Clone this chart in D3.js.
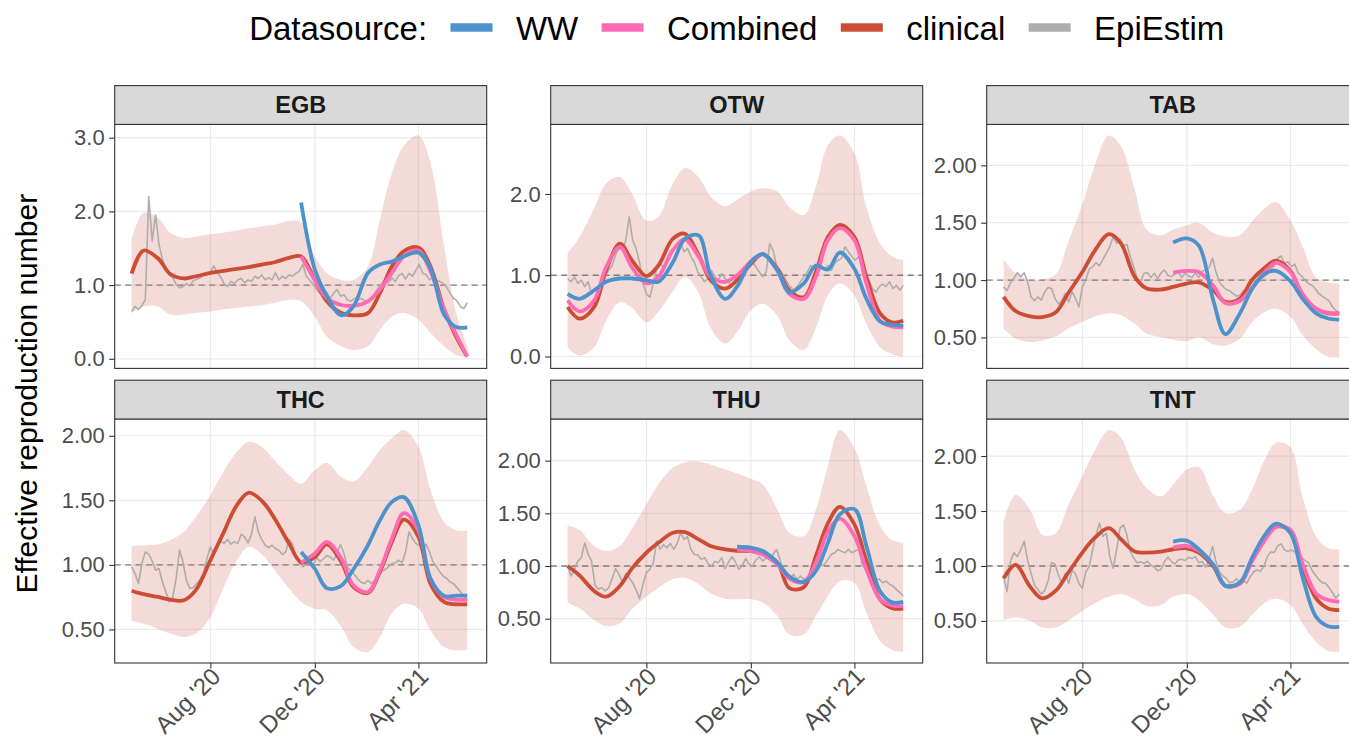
<!DOCTYPE html>
<html>
<head>
<meta charset="utf-8">
<script src="https://cdn.jsdelivr.net/npm/d3@7"></script>
<style>
  body { margin: 0; background: #fff; }
  svg { display: block; font-family: "Liberation Sans", Arial, Helvetica, sans-serif; }
</style>
</head>
<body>
<svg id="chart" width="1349" height="740"></svg>
<script>
// knot dates for the smoothed estimates (1st and 15th of each month)
const knotDates = ["2020-05-01","2020-05-15","2020-06-01","2020-06-15","2020-07-01","2020-07-15",
  "2020-08-01","2020-08-15","2020-09-01","2020-09-15","2020-10-01","2020-10-15","2020-11-01",
  "2020-11-15","2020-12-01","2020-12-15","2021-01-01","2021-01-15","2021-02-01","2021-02-15",
  "2021-03-01","2021-03-15","2021-04-01","2021-04-15","2021-05-01","2021-05-15","2021-05-28"];
// EpiEstim values every 4 days from this date
const epiStart = "2020-05-01";
const epiStepDays = 4;
const xRange = ["2020-05-01", "2021-05-31"];
const xTicks = ["2020-08-01", "2020-12-01", "2021-04-01"];
const sources = ["WW", "Combined", "clinical", "EpiEstim"];

// ---- EGB
const egbClinical = [1.155,1.47,1.36,1.15,1.09,1.12,1.165,1.19,1.22,1.245,1.28,1.31,1.37,1.39,1.07,0.78,0.62,0.59,0.62,0.89,1.255,1.46,1.51,1.255,0.67,0.30,0.03];
const egbLower = [0.62,0.71,0.71,0.60,0.60,0.62,0.64,0.67,0.69,0.71,0.73,0.76,0.80,0.78,0.575,0.30,0.17,0.12,0.17,0.39,0.575,0.62,0.53,0.35,0.17,0.05,0.02];
const egbUpper = [1.62,1.98,1.91,1.71,1.64,1.66,1.69,1.71,1.74,1.77,1.80,1.82,1.87,1.85,1.39,1.165,1.07,1.07,1.255,1.89,2.52,2.89,3.03,2.66,1.53,0.62,0.17];
const egbWW = [2.12,1.21,0.85,0.59,0.71,1.165,1.28,1.32,1.39,1.44,1.23,0.60,0.43,0.425];
const egbCombined = [1.39,1.07,0.825,0.73,0.72,0.78,0.94,1.165,1.39,1.47,1.19,0.67,0.33,0.03];
const egbEpi = [0.64,0.71,0.67,0.72,0.80,2.20,1.60,1.95,1.55,1.35,1.23,1.14,1.10,1.01,0.96,0.98,1.02,0.99,1.06,1.08,
  1.10,1.13,1.14,1.17,1.26,1.17,1.11,1.02,0.98,1.05,1.02,1.07,1.09,1.03,1.07,1.05,1.12,1.09,1.14,1.07,
  1.10,1.07,1.17,1.07,1.12,1.09,1.14,1.12,1.16,1.19,1.28,1.12,1.07,1.01,0.94,0.89,0.87,0.90,0.82,0.89,
  0.94,0.85,0.87,0.80,0.78,0.82,0.80,0.82,0.79,0.78,0.82,0.89,0.96,1.02,1.07,1.03,1.10,1.05,1.13,1.16,
  1.08,1.16,1.12,1.20,1.28,1.16,1.14,1.07,1.12,1.06,1.05,1.02,0.97,0.89,0.82,0.79,0.71,0.68,0.76];
const egbTicks = [0, 1, 2, 3];

// ---- OTW
const otwClinical = [0.61,0.465,0.61,1.06,1.39,1.185,0.99,1.12,1.45,1.51,1.25,0.94,0.835,0.94,1.14,1.26,1.08,0.815,0.73,1.04,1.47,1.62,1.47,0.98,0.53,0.42,0.44];
const otwLower = [0.115,0.01,0.115,0.44,0.67,0.60,0.42,0.55,0.80,0.98,0.78,0.35,0.16,0.30,0.57,0.65,0.50,0.20,0.08,0.35,0.75,0.90,0.75,0.40,0.115,0.03,-0.01];
const otwUpper = [1.27,1.47,1.82,2.13,2.21,2.01,1.67,1.72,2.13,2.32,2.21,1.97,1.85,1.93,2.03,2.07,2.03,1.84,1.74,2.09,2.60,2.72,2.50,1.84,1.39,1.23,1.185];
const otwWW = [0.77,0.71,0.815,0.92,0.96,0.96,0.94,0.92,1.16,1.45,1.49,1.0,0.71,0.86,1.165,1.26,1.06,0.79,0.90,1.12,1.07,1.28,1.08,0.71,0.43,0.39,0.38];
const otwCombined = [0.69,0.555,0.69,1.10,1.35,1.10,0.90,0.98,1.31,1.44,1.23,0.98,0.92,1.00,1.165,1.26,1.06,0.77,0.71,0.98,1.43,1.58,1.43,0.90,0.44,0.37,0.36];
const otwEpi = [0.96,0.92,0.98,0.90,0.94,0.86,0.92,0.77,0.835,0.77,0.94,1.0,1.06,1.12,1.25,1.33,1.31,1.43,1.72,1.43,
  1.33,1.16,0.90,0.77,0.73,0.90,1.08,1.16,1.08,1.16,1.23,1.33,1.35,1.39,1.29,1.33,1.23,1.16,1.04,0.98,
  0.92,0.96,1.06,0.98,0.94,1.02,0.96,0.92,0.86,0.94,0.98,1.04,1.06,1.12,1.16,1.10,1.04,0.98,1.04,1.39,
  1.31,1.12,1.06,1.00,0.92,0.86,0.815,0.86,0.92,0.98,1.04,1.12,1.08,1.04,1.09,1.07,1.12,1.06,1.15,1.185,
  1.21,1.35,1.29,1.23,1.185,1.23,1.10,1.02,0.94,0.835,0.79,0.86,0.89,0.86,0.92,0.835,0.875,0.815,0.875];
const otwTicks = [0, 1, 2];

// ---- TAB
const tabClinical = [0.854,0.73,0.684,0.678,0.72,0.88,1.07,1.25,1.40,1.32,1.03,0.927,0.918,0.94,0.97,0.98,0.91,0.81,0.84,1.0,1.10,1.17,1.08,0.87,0.75,0.71,0.71];
const tabLower = [0.576,0.49,0.46,0.474,0.51,0.576,0.635,0.68,0.71,0.693,0.62,0.532,0.503,0.48,0.468,0.50,0.44,0.43,0.49,0.63,0.72,0.75,0.68,0.52,0.40,0.33,0.327];
const tabUpper = [1.175,1.06,1.0,1.006,1.05,1.32,1.66,1.99,2.26,2.17,1.79,1.44,1.39,1.44,1.477,1.50,1.41,1.38,1.39,1.51,1.62,1.68,1.52,1.30,1.02,0.98,0.97];
const tabWW = [1.327,1.363,1.30,0.82,0.53,0.71,0.92,1.05,1.08,0.99,0.84,0.71,0.665,0.655];
const tabCombined = [1.064,1.08,1.07,0.95,0.80,0.82,0.93,1.06,1.15,1.07,0.88,0.75,0.715,0.71];
const tabEpi = [0.94,0.91,0.977,1.015,1.064,1.03,1.064,0.985,0.854,0.82,0.854,0.825,0.898,0.936,0.927,0.84,0.79,0.825,0.883,0.81,
  0.898,0.84,0.766,0.94,1.0,1.094,1.117,1.152,1.123,1.18,1.234,1.29,1.38,1.32,1.357,1.30,1.31,1.205,1.117,1.015,
  0.985,1.06,1.064,1.023,1.06,1.012,1.064,1.088,1.04,1.03,1.053,1.07,1.023,1.06,1.035,1.023,1.06,1.023,1.073,1.094,
  1.11,1.19,1.073,0.985,0.947,0.918,0.906,0.883,0.86,0.868,0.906,0.918,0.956,1.0,0.977,0.994,1.03,1.053,1.094,1.123,
  1.19,1.21,1.146,1.16,1.117,1.14,1.064,1.035,1.0,0.97,0.956,0.927,0.883,0.86,0.84,0.82,0.766,0.737,0.713];
const tabTicks = [0.5, 1, 1.5, 2];

// ---- THC
const thcClinical = [0.80,0.773,0.752,0.731,0.726,0.804,1.036,1.23,1.463,1.56,1.49,1.36,1.165,1.02,1.06,1.16,1.023,0.83,0.783,0.946,1.178,1.35,1.217,0.855,0.713,0.695,0.695];
const thcLower = [0.566,0.545,0.506,0.468,0.442,0.468,0.597,0.804,1.036,1.14,1.075,0.959,0.817,0.713,0.661,0.649,0.52,0.364,0.326,0.442,0.623,0.70,0.661,0.494,0.364,0.338,0.338];
const thcUpper = [1.145,1.15,1.16,1.19,1.256,1.372,1.54,1.708,1.876,1.953,1.91,1.81,1.695,1.63,1.734,1.79,1.68,1.643,1.76,1.889,1.98,2.044,1.915,1.58,1.333,1.269,1.264];
const thcWW = [1.10,0.97,0.82,0.84,0.964,1.152,1.346,1.488,1.525,1.307,0.894,0.76,0.762,0.762];
const thcCombined = [1.016,1.088,1.178,1.05,0.842,0.79,0.959,1.204,1.40,1.269,0.894,0.752,0.731,0.731];
const thcEpi = [0.985,0.933,0.855,1.01,1.10,1.083,1.03,0.959,0.972,0.868,0.79,0.713,0.747,0.894,1.114,1.023,0.88,0.817,0.824,0.855,
  0.886,0.933,1.05,1.14,1.075,1.134,1.186,1.165,1.196,1.16,1.18,1.165,1.238,1.217,1.17,1.238,1.372,1.256,1.196,1.152,
  1.134,1.152,1.127,1.114,1.08,1.10,1.196,1.16,1.062,1.016,0.985,1.01,1.023,0.995,1.057,1.026,1.047,1.072,1.062,1.036,
  1.093,1.16,1.088,0.985,0.953,0.928,0.891,0.866,0.855,0.881,0.855,0.881,0.912,0.948,0.964,0.985,1.01,1.016,1.036,1.016,
  1.10,1.256,1.204,1.165,1.152,1.114,1.16,1.10,1.023,0.985,0.946,0.912,0.897,0.868,0.855,0.824,0.793,0.757,0.726];
const thcTicks = [0.5, 1, 1.5, 2];

// ---- THU
const thuClinical = [1.0,0.91,0.763,0.709,0.81,0.975,1.126,1.22,1.316,1.322,1.253,1.19,1.158,1.145,1.142,1.12,1.032,0.79,0.80,1.095,1.404,1.562,1.395,1.047,0.684,0.60,0.596];
const thuLower = [0.652,0.596,0.488,0.431,0.457,0.589,0.709,0.795,0.874,0.889,0.826,0.741,0.69,0.684,0.684,0.652,0.526,0.35,0.35,0.526,0.716,0.858,0.842,0.558,0.289,0.204,0.185];
const thuUpper = [1.385,1.341,1.19,1.142,1.19,1.354,1.585,1.774,1.932,1.986,1.992,1.964,1.916,1.878,1.828,1.774,1.537,1.316,1.284,1.537,1.948,2.29,2.12,1.758,1.38,1.246,1.22];
const thuWW = [1.183,1.174,1.142,1.032,0.90,0.848,0.953,1.22,1.49,1.54,1.19,0.76,0.655,0.66];
const thuCombined = [1.158,1.142,1.11,1.016,0.88,0.848,1.032,1.322,1.449,1.284,0.968,0.684,0.627,0.62];
const thuEpi = [1.0,0.905,0.968,1.047,1.079,1.221,1.11,1.047,0.817,0.779,0.795,0.763,0.795,0.88,0.975,0.921,0.848,0.93,0.889,0.842,
  0.773,0.69,0.826,0.937,0.968,1.025,1.237,1.158,1.202,1.174,1.215,1.158,1.215,1.316,1.253,1.278,1.158,1.11,1.107,1.063,
  1.079,1.025,1.0,1.044,1.032,1.079,0.975,1.038,1.088,1.038,0.968,1.006,1.07,1.016,1.0,1.057,1.088,1.047,1.079,1.063,
  1.11,1.158,1.063,0.968,0.912,0.889,0.921,0.874,0.905,0.874,0.889,0.921,0.912,0.968,1.006,1.016,1.063,1.11,1.126,1.158,
  1.139,1.126,1.158,1.126,1.142,1.158,1.016,0.968,0.937,0.899,0.874,0.874,0.842,0.858,0.826,0.81,0.779,0.747,0.716];
const thuTicks = [0.5, 1, 1.5, 2];

// ---- TNT
const tntClinical = [0.887,1.009,0.811,0.705,0.775,0.933,1.122,1.253,1.344,1.244,1.131,1.122,1.131,1.152,1.161,1.122,0.994,0.82,0.84,1.055,1.231,1.359,1.323,0.994,0.705,0.613,0.598];
const tntLower = [0.507,0.531,0.50,0.44,0.44,0.50,0.592,0.659,0.72,0.744,0.696,0.635,0.644,0.72,0.744,0.689,0.553,0.44,0.446,0.553,0.659,0.705,0.644,0.476,0.309,0.227,0.218];
const tntUpper = [1.405,1.645,1.511,1.283,1.298,1.542,1.816,2.044,2.236,2.166,1.877,1.709,1.633,1.74,1.877,1.90,1.633,1.481,1.511,1.694,1.953,2.12,2.08,1.633,1.268,1.161,1.152];
const tntWW = [1.222,1.231,1.152,1.009,0.82,0.85,1.07,1.268,1.384,1.298,0.903,0.537,0.452,0.446];
const tntCombined = [1.167,1.183,1.14,1.009,0.82,0.84,1.04,1.222,1.353,1.329,1.024,0.75,0.69,0.674];
const tntEpi = [0.903,0.766,1.04,1.122,1.085,1.146,1.222,1.055,0.933,0.826,0.787,0.744,0.775,0.866,1.03,1.018,0.918,0.842,0.933,0.842,
  0.963,0.927,0.842,0.796,0.948,0.994,1.146,1.283,1.39,1.268,1.298,1.085,0.979,1.146,1.344,1.374,1.283,1.131,1.07,1.03,
  1.037,1.024,1.043,1.006,0.988,0.957,0.97,1.04,1.079,1.04,1.018,1.055,1.061,1.049,1.079,1.067,1.085,1.03,1.04,0.988,
  1.061,1.177,1.04,0.948,0.909,0.887,0.848,0.854,0.884,0.842,0.872,0.842,0.903,0.945,0.963,0.951,0.994,1.085,1.128,1.122,
  1.183,1.201,1.146,1.131,1.146,1.128,1.11,1.079,1.049,1.03,0.963,0.918,0.878,0.848,0.842,0.805,0.756,0.708,0.744];
const tntTicks = [0.5, 1, 1.5, 2];

const panels = [
  {site: "EGB", clinical: egbClinical, lower: egbLower, upper: egbUpper, WW: egbWW, Combined: egbCombined, epi: egbEpi, ticks: egbTicks},
  {site: "OTW", clinical: otwClinical, lower: otwLower, upper: otwUpper, WW: otwWW, Combined: otwCombined, epi: otwEpi, ticks: otwTicks},
  {site: "TAB", clinical: tabClinical, lower: tabLower, upper: tabUpper, WW: tabWW, Combined: tabCombined, epi: tabEpi, ticks: tabTicks},
  {site: "THC", clinical: thcClinical, lower: thcLower, upper: thcUpper, WW: thcWW, Combined: thcCombined, epi: thcEpi, ticks: thcTicks},
  {site: "THU", clinical: thuClinical, lower: thuLower, upper: thuUpper, WW: thuWW, Combined: thuCombined, epi: thuEpi, ticks: thuTicks},
  {site: "TNT", clinical: tntClinical, lower: tntLower, upper: tntUpper, WW: tntWW, Combined: tntCombined, epi: tntEpi, ticks: tntTicks}
];

const colors = {WW: "#4C93CE", Combined: "#FF6AB5", clinical: "#CC4D36", EpiEstim: "#ADADAD"};

// layout
const colX = [114.7, 550.7, 986.7];
const panelW = 372;
const stripTop = [85.6, 380.2];
const stripH = 38.8;
const panelH = 244;

const svg = d3.select("#chart");
const parse = d3.timeParse("%Y-%m-%d");
const knots = knotDates.map(parse);
const epiDay0 = parse(epiStart);

const xa = parse(xRange[0]), xb = parse(xRange[1]);
const xPad = (xb - xa) * 0.05;
const xDomain = [new Date(+xa - xPad), new Date(+xb + xPad)];

panels.forEach((p, i) => {
  const col = i % 3, row = Math.floor(i / 3);
  const left = colX[col];
  const sTop = stripTop[row];
  const top = sTop + stripH;
  const bottom = top + panelH;

  const x = d3.scaleTime().domain(xDomain).range([left, left + panelW]);

  const all = [].concat(p.clinical, p.lower, p.upper, p.WW, p.Combined, p.epi);
  const lo = d3.min(all), hi = d3.max(all);
  const yPad = (hi - lo) * 0.05;
  const y = d3.scaleLinear().domain([lo - yPad, hi + yPad]).range([bottom, top]);

  const g = svg.append("g");

  // panel background
  g.append("rect").attr("x", left).attr("y", top).attr("width", panelW).attr("height", panelH)
    .attr("fill", "#fff");

  // grid
  g.selectAll(".hg").data(p.ticks).join("line")
    .attr("x1", left).attr("x2", left + panelW)
    .attr("y1", d => y(d)).attr("y2", d => y(d))
    .attr("stroke", "#EBEBEB").attr("stroke-width", 1.2);
  g.selectAll(".vg").data(xTicks.map(parse)).join("line")
    .attr("x1", d => x(d)).attr("x2", d => x(d))
    .attr("y1", top).attr("y2", bottom)
    .attr("stroke", "#EBEBEB").attr("stroke-width", 1.2);

  // ribbon
  const band = knots.map((d, k) => ({date: d, lo: p.lower[k], hi: p.upper[k]}));
  g.append("path").datum(band)
    .attr("fill", colors.clinical).attr("fill-opacity", 0.2)
    .attr("d", d3.area().x(d => x(d.date)).y0(d => y(d.lo)).y1(d => y(d.hi)).curve(d3.curveCatmullRom));

  // reference line at 1
  g.append("line").attr("x1", left).attr("x2", left + panelW)
    .attr("y1", y(1)).attr("y2", y(1))
    .attr("stroke", "#7F7F7F").attr("stroke-width", 1.4).attr("stroke-dasharray", "6,4.5");

  // EpiEstim
  const epi = p.epi.map((v, k) => ({date: d3.timeDay.offset(epiDay0, k * epiStepDays), v}));
  g.append("path").datum(epi)
    .attr("fill", "none").attr("stroke", colors.EpiEstim).attr("stroke-width", 1.6)
    .attr("stroke-linejoin", "round")
    .attr("d", d3.line().x(d => x(d.date)).y(d => y(d.v)));

  const smooth = d3.line().x(d => x(d.date)).y(d => y(d.v)).curve(d3.curveCatmullRom);
  ["clinical", "Combined", "WW"].forEach(src => {
    const vals = p[src];
    const off = knots.length - vals.length;
    const pts = vals.map((v, k) => ({date: knots[k + off], v}));
    g.append("path").datum(pts)
      .attr("fill", "none").attr("stroke", colors[src]).attr("stroke-width", 3.8)
      .attr("stroke-linecap", "butt")
      .attr("d", smooth);
  });

  // border
  g.append("rect").attr("x", left).attr("y", top).attr("width", panelW).attr("height", panelH)
    .attr("fill", "none").attr("stroke", "#333333").attr("stroke-width", 1.1);

  // strip
  g.append("rect").attr("x", left).attr("y", sTop).attr("width", panelW).attr("height", stripH)
    .attr("fill", "#D9D9D9").attr("stroke", "#333333").attr("stroke-width", 1.1);
  g.append("text").attr("x", left + panelW / 2).attr("y", sTop + stripH / 2 + 8.4)
    .attr("text-anchor", "middle").attr("font-size", 23.5).attr("font-weight", "bold")
    .attr("fill", "#1A1A1A").text(p.site);

  // y axis
  const decimals = p.ticks.some(t => t % 1 !== 0) ? ".2f" : ".1f";
  const ya = g.append("g").attr("transform", `translate(${left},0)`)
    .call(d3.axisLeft(y).tickValues(p.ticks).tickFormat(d3.format(decimals)).tickSize(5.5).tickPadding(4.5));
  ya.select(".domain").remove();
  ya.selectAll(".tick line").attr("stroke", "#333333").attr("stroke-width", 1.1);
  ya.selectAll(".tick text").attr("fill", "#4D4D4D").attr("font-size", 22)
    .attr("font-family", "Liberation Sans, Arial, sans-serif");

  // x axis only on bottom row
  if (row === 1) {
    const xax = g.append("g").attr("transform", `translate(0,${bottom})`)
      .call(d3.axisBottom(x).tickValues(xTicks.map(parse)).tickFormat(d3.timeFormat("%b '%y")).tickSize(5.5));
    xax.select(".domain").remove();
    xax.selectAll(".tick line").attr("stroke", "#333333").attr("stroke-width", 1.1);
    xax.selectAll(".tick text").attr("fill", "#4D4D4D").attr("font-size", 24)
      .attr("font-family", "Liberation Sans, Arial, sans-serif")
      .attr("text-anchor", "end").attr("x", 0).attr("y", 0).attr("dy", "0.71em")
      .attr("transform", "translate(-1,3) rotate(-45)");
  }
});

// y axis title, centred on the panel area
svg.append("text")
  .attr("transform", `translate(37,${(stripTop[0] + stripH + stripTop[1] + stripH + panelH) / 2}) rotate(-90)`)
  .attr("text-anchor", "middle").attr("font-size", 30).attr("fill", "#000")
  .text("Effective reproduction number");

// legend
const lg = svg.append("g");
const keyW = 42, gap = 23.4;
const lt = lg.append("text").attr("x", 0).attr("y", 39.5).attr("font-size", 33).attr("fill", "#000").text("Datasource:");
let cx = lt.node().getComputedTextLength() + gap;
sources.forEach(s => {
  lg.append("line").attr("x1", cx).attr("x2", cx + keyW).attr("y1", 27.5).attr("y2", 27.5)
    .attr("stroke", colors[s]).attr("stroke-width", 8.5);
  cx += keyW + gap;
  const t = lg.append("text").attr("x", cx).attr("y", 39.5).attr("font-size", 33).attr("fill", "#000").text(s);
  cx += t.node().getComputedTextLength() + gap;
});
const legendW = cx - gap;
lg.attr("transform", `translate(${(colX[0] + colX[2] + panelW) / 2 - legendW / 2},0)`);
</script>
</body>
</html>
